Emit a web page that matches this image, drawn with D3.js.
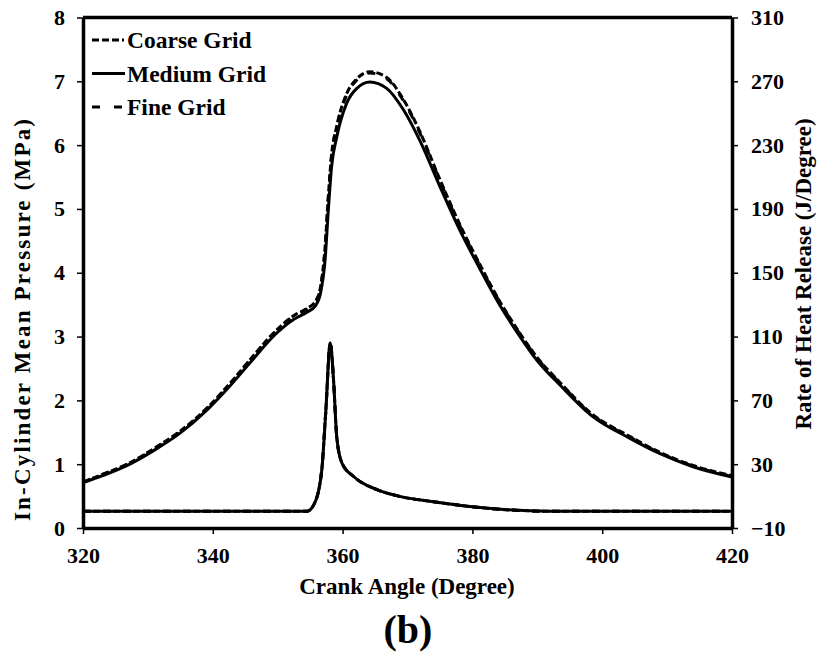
<!DOCTYPE html>
<html>
<head>
<meta charset="utf-8">
<title>Crank angle chart</title>
<script src="https://d3js.org/d3.v7.min.js"></script>
<style>
  body { margin: 0; background: #fff; }
  text { font-family: "Liberation Serif", "Times New Roman", serif; font-weight: bold; fill: #000; }
</style>
</head>
<body>
<div id="chart"></div>
<script>
// crank angle samples for the pressure curves (degree)
var pressureAngle = [320, 323, 327, 331, 335, 339, 342.5, 346, 349.5, 352.5, 354.5, 355.8, 356.6, 357.3, 357.8, 358.3, 359.1, 360.6, 362.2, 364.2, 366.8, 369.4, 372, 375, 378, 381, 384, 387, 390, 393.5, 398.5, 404, 409, 414, 420];
// in-cylinder mean pressure (MPa)
var pressureCoarse = [0.72, 0.84, 1.01, 1.25, 1.52, 1.87, 2.25, 2.67, 3.07, 3.33, 3.44, 3.55, 3.78, 4.40, 5.20, 5.85, 6.30, 6.80, 7.04, 7.15, 7.06, 6.71, 6.19, 5.46, 4.77, 4.16, 3.59, 3.10, 2.67, 2.28, 1.78, 1.45, 1.18, 0.98, 0.82];
var pressureMedium = [0.71, 0.82, 0.99, 1.22, 1.49, 1.84, 2.21, 2.62, 3.02, 3.27, 3.38, 3.48, 3.68, 4.20, 4.98, 5.66, 6.13, 6.65, 6.89, 6.99, 6.89, 6.55, 6.05, 5.35, 4.68, 4.09, 3.53, 3.05, 2.62, 2.24, 1.75, 1.42, 1.16, 0.96, 0.80];
var pressureFine = [0.72, 0.84, 1.01, 1.24, 1.51, 1.86, 2.24, 2.66, 3.06, 3.32, 3.43, 3.54, 3.76, 4.37, 5.17, 5.83, 6.28, 6.78, 7.02, 7.13, 7.04, 6.69, 6.17, 5.44, 4.75, 4.14, 3.58, 3.09, 2.66, 2.27, 1.77, 1.44, 1.17, 0.97, 0.81];

// rate of heat release (J/Degree)
var hrrAngle = [320, 354.5, 355.7, 356.8, 357.4, 358.1, 358.6, 359.1, 359.9, 361.7, 365.3, 368.8, 374, 382, 392, 420];
var hrrCoarse = [0.5, 0.5, 5.8, 27, 63, 106, 83, 47, 30.7, 22.3, 14, 9.8, 6.5, 2.5, 0.5, 0.5];
var hrrMedium = [0.5, 0.5, 5.6, 26.5, 62, 106, 83, 47, 30.7, 22.3, 14, 9.8, 6.5, 2.5, 0.5, 0.5];
var hrrFine = [0.5, 0.5, 5.7, 26.8, 62.5, 106, 83, 47, 30.7, 22.3, 14, 9.8, 6.5, 2.5, 0.5, 0.5];

var xTicks = [320, 340, 360, 380, 400, 420];
var yTicks = [0, 1, 2, 3, 4, 5, 6, 7, 8];
var y2Ticks = [-10, 30, 70, 110, 150, 190, 230, 270, 310];
var gridNames = ['Coarse Grid', 'Medium Grid', 'Fine Grid'];

var width = 817, height = 652;
var margin = {top: 17.5, right: 85, bottom: 124, left: 83};
var plotW = width - margin.left - margin.right;
var plotH = height - margin.top - margin.bottom;

var svg = d3.select('#chart').append('svg')
    .attr('width', width)
    .attr('height', height);

svg.append('rect').attr('width', width).attr('height', height).attr('fill', '#fff');

var x = d3.scaleLinear().domain([320, 420]).range([0, plotW]);
var y = d3.scaleLinear().domain([0, 8]).range([plotH, 0]);
var y2 = d3.scaleLinear().domain([-10, 310]).range([plotH, 0]);

var g = svg.append('g').attr('transform', 'translate(' + margin.left + ',' + margin.top + ')');

// dash styles per grid
var styles = {
  'Coarse Grid': '7,3',
  'Medium Grid': null,
  'Fine Grid': '8,12'
};

function zipPts(xs, ys) {
  return xs.map(function(d, i) { return [d, ys[i]]; });
}

var pLine = d3.line().x(function(d) { return x(d[0]); }).y(function(d) { return y(d[1]); }).curve(d3.curveMonotoneX);
var hLine = d3.line().x(function(d) { return x(d[0]); }).y(function(d) { return y2(d[1]); }).curve(d3.curveMonotoneX);

var series = [
  {name: 'Coarse Grid', p: pressureCoarse, h: hrrCoarse},
  {name: 'Fine Grid', p: pressureFine, h: hrrFine},
  {name: 'Medium Grid', p: pressureMedium, h: hrrMedium}
];

series.forEach(function(s) {
  g.append('path')
    .attr('d', pLine(zipPts(pressureAngle, s.p)))
    .attr('fill', 'none')
    .attr('stroke', '#000')
    .attr('stroke-width', 3)
    .attr('stroke-dasharray', styles[s.name]);
  g.append('path')
    .attr('d', hLine(zipPts(hrrAngle, s.h)))
    .attr('fill', 'none')
    .attr('stroke', '#000')
    .attr('stroke-width', 3)
    .attr('stroke-dasharray', styles[s.name]);
});

// axes
var xAxis = g.append('g')
    .attr('transform', 'translate(0,' + plotH + ')')
    .call(d3.axisBottom(x).tickValues(xTicks).tickSize(6).tickPadding(13).tickSizeOuter(0));
var yAxis = g.append('g')
    .call(d3.axisLeft(y).tickValues(yTicks).tickSize(6).tickPadding(12).tickSizeOuter(0));
var y2Axis = g.append('g')
    .attr('transform', 'translate(' + plotW + ',0)')
    .call(d3.axisRight(y2).tickValues(y2Ticks).tickSize(6).tickPadding(13).tickSizeOuter(0));

[xAxis, yAxis, y2Axis].forEach(function(a) {
  a.select('.domain').attr('stroke', '#000').attr('stroke-width', 3.5);
  a.selectAll('.tick line').attr('stroke', '#000').attr('stroke-width', 1.5);
  a.selectAll('.tick text')
    .attr('fill', '#000')
    .style('font-size', '22px')
    .style('font-family', '"Liberation Serif", "Times New Roman", serif')
    .style('font-weight', 'bold');
});

// top border
g.append('line')
  .attr('x1', 0).attr('x2', plotW)
  .attr('y1', 0).attr('y2', 0)
  .attr('stroke', '#000').attr('stroke-width', 3.5);

// legend
var legend = g.append('g').attr('transform', 'translate(9,22.5)');
gridNames.forEach(function(name, i) {
  var row = legend.append('g').attr('transform', 'translate(0,' + (i * 33.5) + ')');
  row.append('line')
    .attr('x1', 0).attr('x2', 33)
    .attr('stroke', '#000').attr('stroke-width', 3)
    .attr('stroke-dasharray', name == 'Coarse Grid' ? '7,3,7,3,7,3,2,2' : (name == 'Fine Grid' ? '8,14' : null));
  row.append('text')
    .attr('x', 35).attr('y', 0).attr('dy', '0.35em')
    .style('font-size', '23.5px')
    .text(name);
});

// axis titles
svg.append('text')
  .attr('transform', 'translate(30,320) rotate(-90)')
  .attr('text-anchor', 'middle')
  .attr('textLength', 402)
  .attr('lengthAdjust', 'spacing')
  .style('font-size', '23px')
  .text('In-Cylinder  Mean Pressure (MPa)');
svg.append('text')
  .attr('transform', 'translate(811,274) rotate(-90)')
  .attr('text-anchor', 'middle')
  .style('font-size', '23px')
  .text('Rate of Heat Release (J/Degree)');
svg.append('text')
  .attr('x', 407).attr('y', 594)
  .attr('text-anchor', 'middle')
  .style('font-size', '23px')
  .text('Crank Angle (Degree)');
svg.append('text')
  .attr('x', 408).attr('y', 643)
  .attr('text-anchor', 'middle')
  .style('font-size', '40px')
  .text('(b)');
</script>
</body>
</html>
